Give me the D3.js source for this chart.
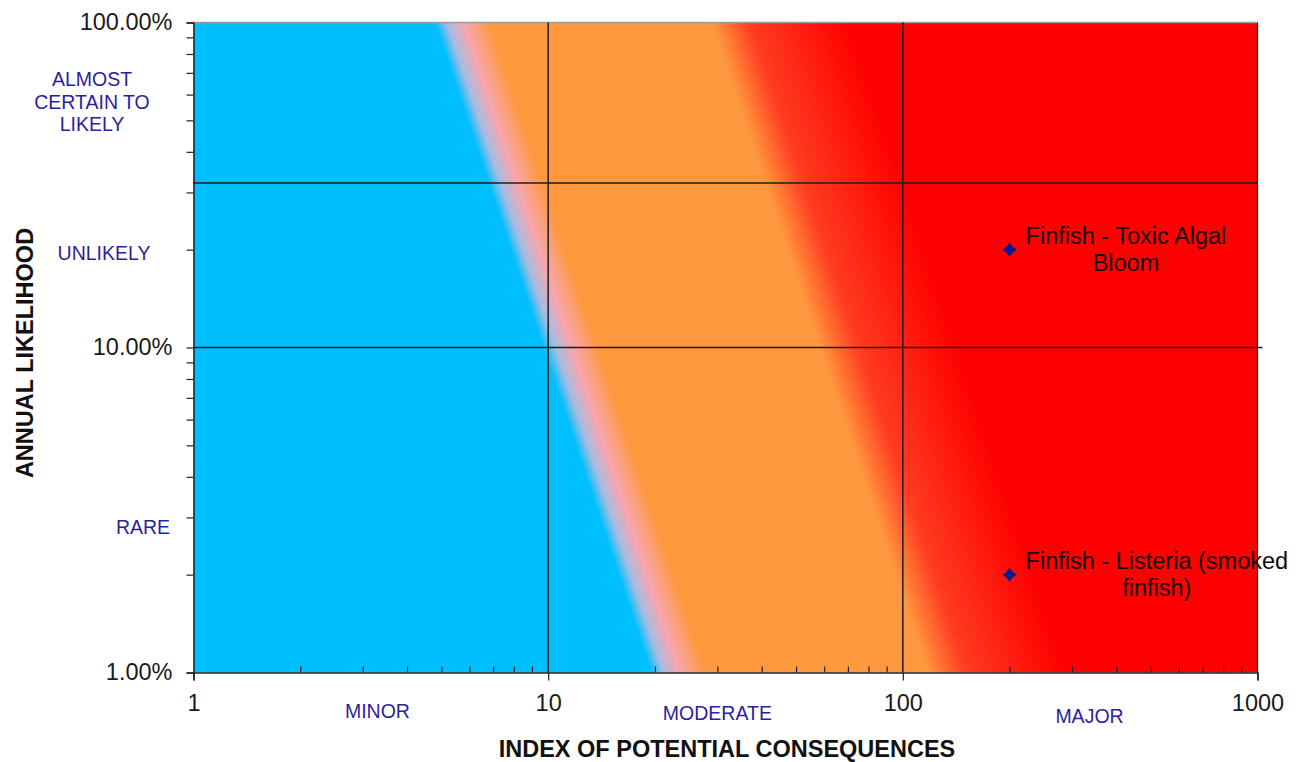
<!DOCTYPE html>
<html>
<head>
<meta charset="utf-8">
<script src="https://cdn.jsdelivr.net/npm/d3@7"></script>
<style>
  html, body { margin: 0; padding: 0; background: #fff; }
  svg { display: block; font-family: "Liberation Sans", Arial, sans-serif; }
</style>
</head>
<body>
<svg id="chart" width="1310" height="762"></svg>
<script>
// ---------- data ----------
const consequenceDomain = [1, 1000];
const likelihoodDomain = [0.01, 1];
const consequenceMajorTicks = [1, 10, 100, 1000];
const likelihoodMajorTicks = [0.01, 0.1, 1];
const consequenceGridLines = [10, 100];
const likelihoodGridLines = [0.1, 0.321];

const consequenceCategories = ["MINOR", "MODERATE", "MAJOR"];
const consequenceCategoryAt = [3.3, 30, 336];
const likelihoodCategories = [["ALMOST", "CERTAIN TO", "LIKELY"], ["UNLIKELY"], ["RARE"]];
const likelihoodCategoryAt = [0.57, 0.195, 0.028];

const hazardNames = [["Finfish - Toxic Algal", "Bloom"], ["Finfish - Listeria (smoked", "finfish)"]];
const hazardConsequence = [200, 200];
const hazardLikelihood = [0.2, 0.02];

// risk score = log10(consequence) + weight * log10(likelihood / 1%)
const riskWeight = 0.305;
const riskStopScore = [1.29, 1.325, 1.37, 1.405, 1.445, 2.07, 2.12, 2.18, 2.3, 2.46];
const riskStopColor = ["#00BFFF", "#A6BCE2", "#F7A6B0", "#FAA07E", "#FF983F", "#FF983F", "#FF6E30", "#FF3C22", "#FF2213", "#FF0000"];

// ---------- layout ----------
const svg = d3.select("#chart");
const pL = 193.5, pR = 1257.5, pT = 22.5, pB = 672.5;
const x = d3.scaleLog().domain(consequenceDomain).range([pL, pR]);
const y = d3.scaleLog().domain(likelihoodDomain).range([pB, pT]);

// gradient aligned with the risk score direction in pixel space
const score = (px, py) => Math.log10(x.invert(px)) + riskWeight * Math.log10(y.invert(py) / 0.01);
const gradX = (score(pL + 100, pB) - score(pL, pB)) / 100;
const gradY = (score(pL, pB + 100) - score(pL, pB)) / 100;
const g2 = gradX * gradX + gradY * gradY;
const sMax = 4;
const p0 = [x(1), y(0.01)];
const p1 = [p0[0] + gradX * sMax / g2, p0[1] + gradY * sMax / g2];

const defs = svg.append("defs");
const grad = defs.append("linearGradient")
  .attr("id", "riskGrad")
  .attr("gradientUnits", "userSpaceOnUse")
  .attr("x1", p0[0]).attr("y1", p0[1])
  .attr("x2", p1[0]).attr("y2", p1[1]);
grad.selectAll("stop").data(riskStopScore).join("stop")
  .attr("offset", d => d / sMax)
  .attr("stop-color", (d, i) => riskStopColor[i]);

svg.append("rect")
  .attr("x", x(consequenceDomain[0])).attr("y", y(likelihoodDomain[1]))
  .attr("width", x(consequenceDomain[1]) - x(consequenceDomain[0]))
  .attr("height", y(likelihoodDomain[0]) - y(likelihoodDomain[1]))
  .attr("fill", "url(#riskGrad)");

// top border gray, right border black
svg.append("line").attr("x1", pL).attr("x2", pR).attr("y1", pT).attr("y2", pT)
  .attr("stroke", "#9a9a9a").attr("stroke-width", 1.5);
svg.append("line").attr("x1", pR).attr("x2", pR).attr("y1", pT).attr("y2", pB)
  .attr("stroke", "#222").attr("stroke-width", 1.2);

// grid lines
svg.selectAll(".hgrid").data(likelihoodGridLines).join("line")
  .attr("class", "hgrid")
  .attr("x1", pL).attr("x2", (d, i) => i === 0 ? pR + 5 : pR)
  .attr("y1", d => y(d)).attr("y2", d => y(d))
  .attr("stroke", "#1e1e1e").attr("stroke-width", 1.5);
svg.selectAll(".vgrid").data(consequenceGridLines).join("line")
  .attr("class", "vgrid")
  .attr("x1", d => x(d)).attr("x2", d => x(d))
  .attr("y1", pT).attr("y2", pB)
  .attr("stroke", "#1e1e1e").attr("stroke-width", 1.5);

// ---------- axes ----------
const yMinor = [];
[0.01, 0.1].forEach(b => { for (let k = 2; k <= 9; k++) yMinor.push(b * k); });
const xMinor = [];
[1, 10, 100].forEach(b => { for (let k = 2; k <= 9; k++) xMinor.push(b * k); });

const yAxis = svg.append("g").attr("transform", `translate(${pL},0)`)
  .call(d3.axisLeft(y).tickValues(likelihoodMajorTicks.concat(yMinor)).tickSize(7).tickPadding(14)
    .tickFormat(d => likelihoodMajorTicks.includes(d) ? d3.format(".2%")(d) : ""));
yAxis.select(".domain").attr("stroke", "#222").attr("stroke-width", 1.5);
yAxis.selectAll(".tick line").attr("stroke", "#222").attr("stroke-width", 1.2);
yAxis.selectAll(".tick text").attr("font-size", 23.5).attr("fill", "#1a1a1a")
  .attr("font-family", "Liberation Sans, Arial, sans-serif").attr("dy", "0.3em");

const xMinorAxis = svg.append("g").attr("transform", `translate(0,${pB})`)
  .call(d3.axisBottom(x).tickValues(xMinor).tickSize(-6).tickFormat(""));
xMinorAxis.select(".domain").remove();
xMinorAxis.selectAll(".tick line").attr("stroke", "#222").attr("stroke-width", 1.2);

const xAxis = svg.append("g").attr("transform", `translate(0,${pB})`)
  .call(d3.axisBottom(x).tickValues(consequenceMajorTicks).tickSize(8).tickPadding(14)
    .tickFormat(d3.format("d")));
xAxis.select(".domain").attr("stroke", "#222").attr("stroke-width", 1.5);
xAxis.selectAll(".tick line").attr("stroke", "#222").attr("stroke-width", 1.2);
xAxis.selectAll(".tick text").attr("font-size", 23.5).attr("fill", "#1a1a1a")
  .attr("font-family", "Liberation Sans, Arial, sans-serif");

// ---------- category labels ----------
const catColor = "#2c1f9e";
svg.selectAll(".xcat").data(consequenceCategories).join("text")
  .attr("class", "xcat")
  .attr("x", (d, i) => x(consequenceCategoryAt[i]))
  .attr("y", (d, i) => [718, 720, 723][i])
  .attr("text-anchor", "middle").attr("font-size", 19.5).attr("fill", catColor)
  .text(d => d);

const ycatX = [92, 104, 143];
likelihoodCategories.forEach((lines, i) => {
  const cy = y(likelihoodCategoryAt[i]);
  const t = svg.append("text")
    .attr("text-anchor", "middle").attr("font-size", 19.5).attr("fill", catColor);
  lines.forEach((ln, j) => {
    t.append("tspan").attr("x", ycatX[i])
      .attr("y", cy + 7 + (j - (lines.length - 1) / 2) * 22.5)
      .text(ln);
  });
});

// ---------- axis titles ----------
svg.append("text")
  .attr("x", 727).attr("y", 757)
  .attr("text-anchor", "middle").attr("font-size", 23.5).attr("font-weight", "bold").attr("fill", "#111")
  .text("INDEX OF POTENTIAL CONSEQUENCES");
svg.append("text")
  .attr("transform", "translate(33,353) rotate(-90)")
  .attr("text-anchor", "middle").attr("font-size", 23.5).attr("font-weight", "bold").attr("fill", "#111")
  .text("ANNUAL LIKELIHOOD");

// ---------- hazards ----------
const star4 = {
  draw(ctx, size) {
    const r = Math.sqrt(size) * 0.75, q = r * 0.42;
    ctx.moveTo(0, -r); ctx.lineTo(q, -q); ctx.lineTo(r, 0); ctx.lineTo(q, q);
    ctx.lineTo(0, r); ctx.lineTo(-q, q); ctx.lineTo(-r, 0); ctx.lineTo(-q, -q); ctx.closePath();
  }
};
svg.selectAll(".hz").data(hazardNames).join("path")
  .attr("class", "hz")
  .attr("transform", (d, i) => `translate(${x(hazardConsequence[i])},${y(hazardLikelihood[i])})`)
  .attr("d", d3.symbol().type(star4).size(90))
  .attr("fill", "#0b1a8c");

hazardNames.forEach((lines, i) => {
  const px = x(hazardConsequence[i]), py = y(hazardLikelihood[i]);
  const t = svg.append("text").attr("font-size", 23.5).attr("fill", "#140808").attr("text-anchor", "middle");
  const first = t.append("tspan").attr("x", 0).attr("y", py - 6).text(lines[0]);
  const w = first.node().getComputedTextLength();
  const cx = px + 16 + w / 2;
  first.attr("x", cx);
  t.append("tspan").attr("x", cx).attr("y", py + 21).text(lines[1]);
});
</script>
</body>
</html>
